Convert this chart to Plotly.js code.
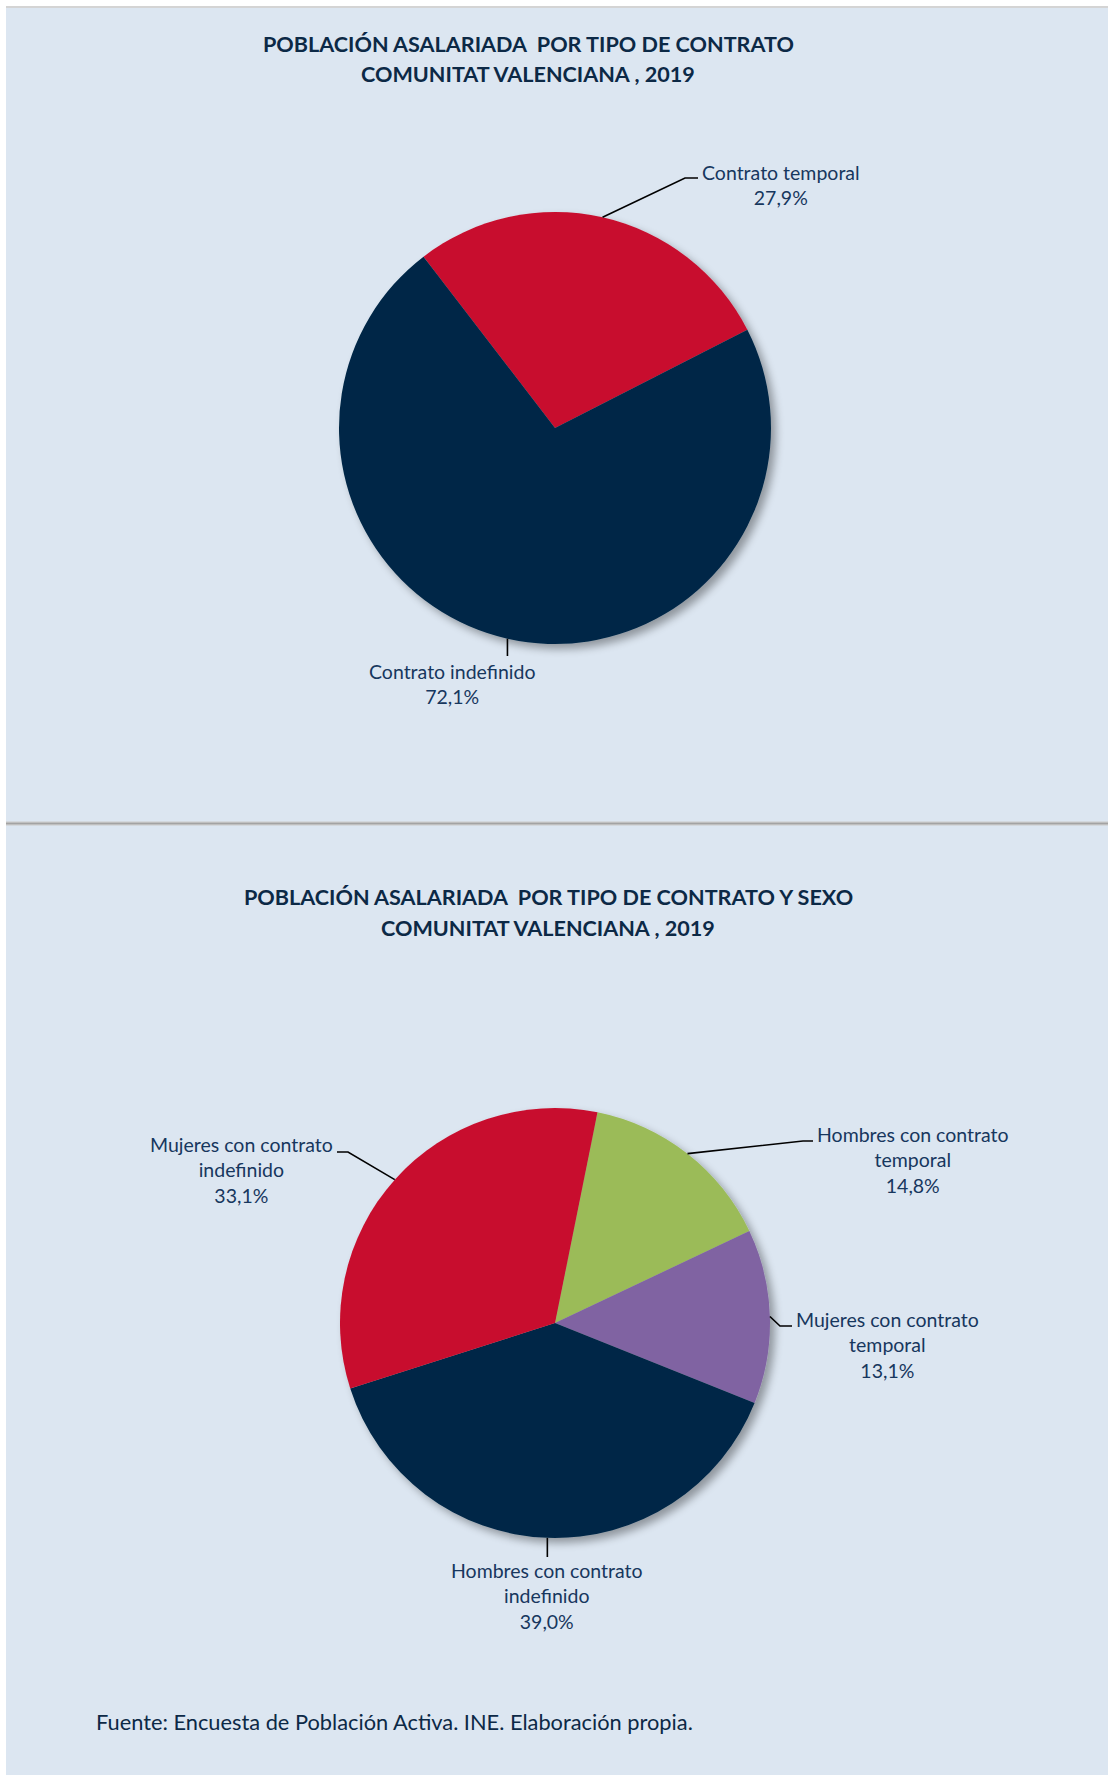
<!DOCTYPE html>
<html>
<head>
<meta charset="utf-8">
<script src="https://cdn.plot.ly/plotly-3.0.1.min.js"></script>
<style>
  html, body { margin: 0; padding: 0; background: #ffffff; }
  #chart { width: 1108px; height: 1775px; }
</style>
</head>
<body>
<div id="chart"></div>
<script>
// ---------------- DATA ----------------
const chart1Title = ["POBLACIÓN ASALARIADA  POR TIPO DE CONTRATO", "COMUNITAT VALENCIANA , 2019"];
const chart1Labels = ["Contrato temporal", "Contrato indefinido"];
const chart1Values = [27.9, 72.1];

const chart2Title = ["POBLACIÓN ASALARIADA  POR TIPO DE CONTRATO Y SEXO", "COMUNITAT VALENCIANA , 2019"];
const chart2Labels = ["Hombres con contrato temporal", "Mujeres con contrato temporal",
                      "Hombres con contrato indefinido", "Mujeres con contrato indefinido"];
const chart2LabelLines = [["Hombres con contrato", "temporal"], ["Mujeres con contrato", "temporal"],
                          ["Hombres con contrato", "indefinido"], ["Mujeres con contrato", "indefinido"]];
const chart2Values = [14.8, 13.1, 39.0, 33.1];

const sourceNote = "Fuente: Encuesta de Población Activa. INE. Elaboración propia.";

// ---------------- STYLE / LAYOUT CONFIG ----------------
const W = 1108, H = 1775;
const BG = "#DCE6F1";
const TITLE_COLOR = "#0C2946";
const LABEL_COLOR = "#17375E";
const FONT = "Lato, 'Open Sans', sans-serif";

const chart1Colors = ["#C8102E", "#022846"];
const chart2Colors = ["#9BBB59", "#8064A2", "#022846", "#C8102E"];

const pie1 = { cx: 555, cy: 428, r: 216, rotation: -37.5 };
const pie2 = { cx: 555, cy: 1323, r: 215, rotation: 11.4 };

// label placement (pixels): text centre, leader elbow and end (null x => same x as slice anchor)
const chart1LabelPos = [
  { tx: 781, ty: 185, elbow: [685, 178], end: [698, 178] },
  { tx: 452, ty: 684, elbow: [null, 656], end: [null, 656] }
];
const chart2LabelPos = [
  { tx: 913, ty: 1160, elbow: [803, 1141], end: [813, 1141] },
  { tx: 887, ty: 1345, elbow: [780, 1326], end: [792, 1326] },
  { tx: 547, ty: 1596, elbow: [null, 1557], end: [null, 1557] },
  { tx: 241, ty: 1170, elbow: [348, 1152], end: [337, 1152] }
];

// ---------------- HELPERS ----------------
const px = x => x / W;
const py = y => 1 - y / H;
const fmt = v => v.toFixed(1).replace(".", ",") + "%";

function domainFor(p) {
  return { x: [px(p.cx - p.r), px(p.cx + p.r)], y: [py(p.cy + p.r), py(p.cy - p.r)] };
}

// anchor point on the circumference at the middle angle of each slice (clockwise from 12 o'clock)
function anchors(values, p) {
  const total = values.reduce((a, b) => a + b, 0);
  let a = p.rotation;
  return values.map(v => {
    const span = v / total * 360;
    const mid = (a + span / 2) * Math.PI / 180;
    a += span;
    return [p.cx + p.r * Math.sin(mid), p.cy - p.r * Math.cos(mid)];
  });
}

const shapes = [];
const annotations = [];

function addLabels(values, lines, p, pos) {
  const anc = anchors(values, p);
  anc.forEach((pt, i) => {
    const L = pos[i];
    const ex = L.elbow[0] === null ? pt[0] : L.elbow[0];
    const nx = L.end[0] === null ? pt[0] : L.end[0];
    const path = `M ${px(pt[0])} ${py(pt[1])} L ${px(ex)} ${py(L.elbow[1])} L ${px(nx)} ${py(L.end[1])}`;
    shapes.push({ type: "path", xref: "paper", yref: "paper", path: path,
                  line: { color: "#000000", width: 1.6 } });
    annotations.push({
      xref: "paper", yref: "paper", x: px(L.tx), y: py(L.ty),
      xanchor: "center", yanchor: "middle", align: "center", showarrow: false,
      text: lines[i].concat([fmt(values[i])]).join("<br>"),
      font: { family: FONT, size: 19.5, color: LABEL_COLOR }
    });
  });
}

addLabels(chart1Values, chart1Labels.map(l => [l]), pie1, chart1LabelPos);
addLabels(chart2Values, chart2LabelLines, pie2, chart2LabelPos);

function addTitle(lines, cx, y1, y2) {
  [y1, y2].forEach((y, i) => annotations.push({
    xref: "paper", yref: "paper", x: px(cx), y: py(y), xanchor: "center", yanchor: "middle",
    showarrow: false, text: "<b>" + lines[i] + "</b>",
    font: { family: FONT, size: 21.6, color: TITLE_COLOR }
  }));
}
addTitle(chart1Title, 528, 44, 74);
addTitle(chart2Title, 548, 897, 928);

annotations.push({
  xref: "paper", yref: "paper", x: px(94), y: py(1721), xanchor: "left", yanchor: "middle",
  showarrow: false, text: sourceNote, font: { family: FONT, size: 21.8, color: TITLE_COLOR }
});

// frame: white margins, top border and separator
shapes.unshift(
  { type: "rect", xref: "paper", yref: "paper", x0: 0, x1: px(6), y0: 0, y1: 1, fillcolor: "#ffffff", line: { width: 0 }, layer: "below" },
  { type: "rect", xref: "paper", yref: "paper", x0: 0, x1: 1, y0: py(6), y1: 1, fillcolor: "#ffffff", line: { width: 0 }, layer: "below" },
  { type: "line", xref: "paper", yref: "paper", x0: px(6), x1: 1, y0: py(7), y1: py(7), line: { color: "#D4D4D4", width: 2 }, layer: "below" },
  { type: "line", xref: "paper", yref: "paper", x0: px(6), x1: 1, y0: py(823.5), y1: py(823.5), line: { color: "#C9C9C9", width: 4 }, layer: "below" },
  { type: "line", xref: "paper", yref: "paper", x0: px(6), x1: 1, y0: py(823.5), y1: py(823.5), line: { color: "#A3A3A3", width: 1.5 }, layer: "below" }
);

const traces = [
  { type: "pie", labels: chart1Labels, values: chart1Values, sort: false, direction: "clockwise",
    rotation: pie1.rotation, domain: domainFor(pie1), marker: { colors: chart1Colors, line: { width: 0 } },
    textinfo: "none", hoverinfo: "label+percent", showlegend: false },
  { type: "pie", labels: chart2Labels, values: chart2Values, sort: false, direction: "clockwise",
    rotation: pie2.rotation, domain: domainFor(pie2), marker: { colors: chart2Colors, line: { width: 0 } },
    textinfo: "none", hoverinfo: "label+percent", showlegend: false }
];

const layout = {
  width: W, height: H, margin: { l: 0, r: 0, t: 0, b: 0 },
  paper_bgcolor: BG, plot_bgcolor: BG, showlegend: false,
  shapes: shapes, annotations: annotations
};

Plotly.newPlot("chart", traces, layout, { displayModeBar: false, staticPlot: true }).then(gd => {
  // soft drop shadow behind each pie
  const svg = gd.querySelector("svg.main-svg");
  const ns = "http://www.w3.org/2000/svg";
  let defs = svg.querySelector("defs");
  if (!defs) { defs = document.createElementNS(ns, "defs"); svg.insertBefore(defs, svg.firstChild); }
  const f = document.createElementNS(ns, "filter");
  f.setAttribute("id", "pieShadow");
  f.setAttribute("x", "-20%"); f.setAttribute("y", "-20%");
  f.setAttribute("width", "140%"); f.setAttribute("height", "140%");
  f.innerHTML = '<feGaussianBlur in="SourceAlpha" stdDeviation="4"/>' +
                '<feOffset dx="5" dy="5" result="ob"/>' +
                '<feComponentTransfer><feFuncA type="linear" slope="0.35"/></feComponentTransfer>' +
                '<feMerge><feMergeNode/><feMergeNode in="SourceGraphic"/></feMerge>';
  defs.appendChild(f);
  gd.querySelectorAll(".pielayer .trace").forEach(t => t.setAttribute("filter", "url(#pieShadow)"));
});
</script>
</body>
</html>
